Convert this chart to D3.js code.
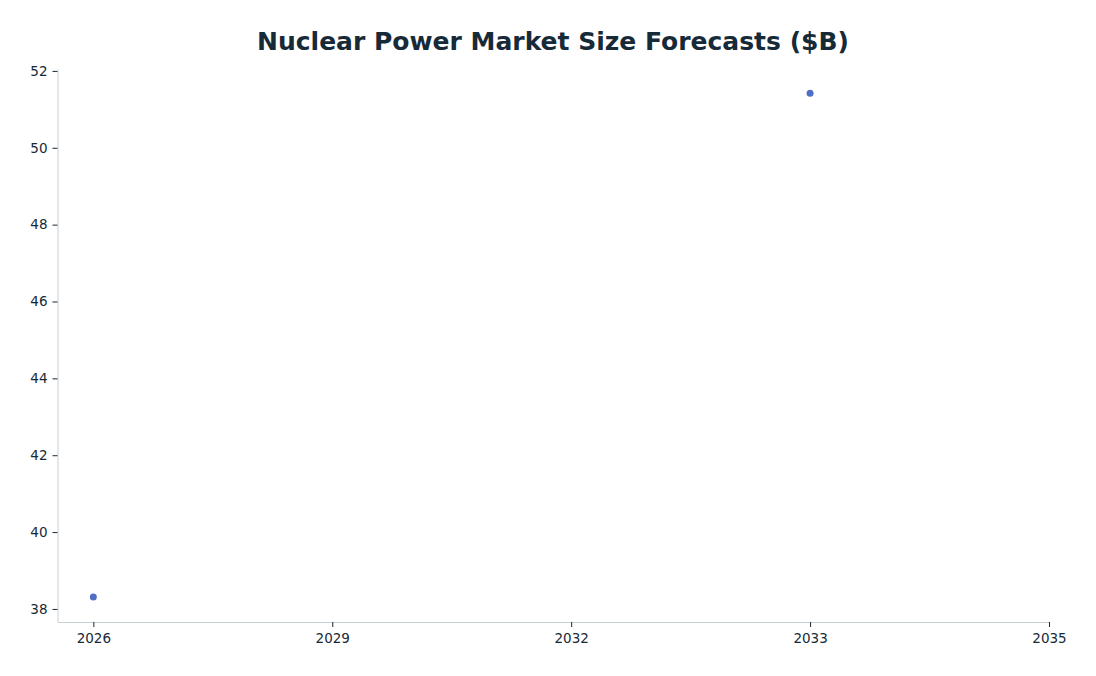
<!DOCTYPE html>
<html><head><meta charset="utf-8">
<script src="https://cdn.jsdelivr.net/npm/d3@7"></script>
<style>body{margin:0;background:#fff}svg{display:block}</style>
</head><body>
<script>
const title = "Nuclear Power Market Size Forecasts ($B)";
const xTickLabels = ["2026", "2029", "2032", "2033", "2035"];
const pointYears = ["2026", "2033"];
const pointValues = [38.31, 51.42];
const yTicks = [38, 40, 42, 44, 46, 48, 50, 52];

const W = 1096, H = 676;
const svg = d3.select("body").append("svg").attr("width", W).attr("height", H);
const font = "DejaVu Sans, sans-serif";

const x = d3.scaleLinear().domain([-0.15, xTickLabels.length - 1]).range([57.5, 1049]);
const y = d3.scaleLinear().domain([37.66, 52.05]).range([622, 69]);

svg.append("text").attr("x", 553).attr("y", 50).attr("text-anchor", "middle")
  .attr("font-family", font).attr("font-weight", "bold").attr("font-size", 25)
  .attr("fill", "#172a38").text(title);

const xAxis = d3.axisBottom(x).tickValues(d3.range(xTickLabels.length))
  .tickFormat(i => xTickLabels[i]).tickSize(5).tickSizeOuter(0).tickPadding(6);
const gx = svg.append("g").attr("transform", "translate(0,622)").call(xAxis);
const yAxis = d3.axisLeft(y).tickValues(yTicks).tickSize(5).tickSizeOuter(0).tickPadding(5);
const gy = svg.append("g").attr("transform", "translate(57.5,0)").call(yAxis);

[gx, gy].forEach(g => {
  g.select(".domain").attr("stroke", "#c8d0d4");
  g.selectAll(".tick line").attr("stroke", "#172a38");
  g.selectAll(".tick text").attr("font-family", font).attr("font-size", 13.5).attr("fill", "#172a38");
});

svg.append("g").selectAll("circle").data(pointValues).join("circle")
  .attr("cx", (d, i) => x(xTickLabels.indexOf(pointYears[i])))
  .attr("cy", d => y(d)).attr("r", 3.5).attr("fill", "#4f6fc6");
</script>
</body></html>
